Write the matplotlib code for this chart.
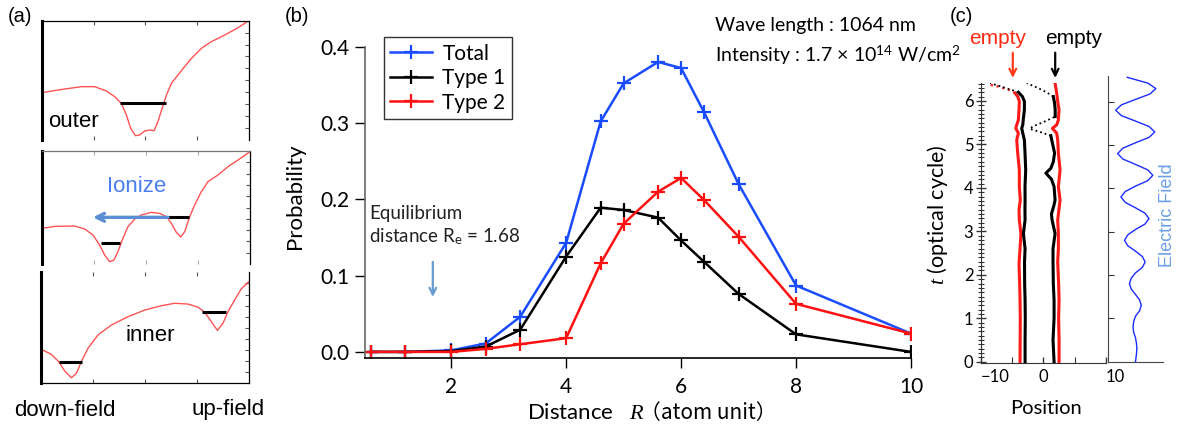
import numpy as np
import matplotlib
matplotlib.use('Agg')
import matplotlib.pyplot as plt

plt.rcParams['font.family'] = ['Lato', 'Noto Sans CJK JP']
plt.rcParams['mathtext.fontset'] = 'custom'
plt.rcParams['mathtext.rm'] = 'Lato'
plt.rcParams['mathtext.it'] = 'Liberation Serif:italic'
plt.rcParams['mathtext.bf'] = 'Lato:bold'

# ---------------- panel (b) data ----------------
dist = [0.6, 1.2, 2, 2.6, 3.2, 4, 4.6, 5, 5.6, 6, 6.4, 7, 8, 10]
prob_total = [0, 0, 0.002, 0.011, 0.046, 0.143, 0.302, 0.352, 0.380, 0.372, 0.314, 0.220, 0.087, 0.024]
prob_type1 = [0, 0, 0.001, 0.007, 0.029, 0.125, 0.189, 0.186, 0.176, 0.146, 0.118, 0.076, 0.023, 0.0]
prob_type2 = [0, 0, 0.0, 0.004, 0.010, 0.018, 0.116, 0.168, 0.210, 0.228, 0.199, 0.151, 0.063, 0.024]
series_labels = ['Total', 'Type 1', 'Type 2']
series_colors = ['#1a4cff', 'black', '#ff1010']
r_equilibrium = 1.68

# ---------------- panel (a) data (potential sketches, 0-100 box units) ----------------
outer_x = [0, 7.7, 19.0, 25.5, 31.1, 35.2, 38.4, 40.8, 42.9, 45.2, 47.2, 49.7, 52.1, 54.2, 56.1,
           58.1, 60.2, 62.6, 65.8, 69.0, 72.3, 77.1, 81.9, 88.4, 94.8, 100]
outer_y = [39.7, 41.9, 44.7, 44.7, 41.1, 36.3, 30.7, 21.0, 9.8, 3.6, 4.2, 7.5, 8.4, 7.8, 15.4,
           26.5, 37.7, 47.5, 54.5, 61.5, 68.4, 76.8, 82.4, 88.0, 94.1, 100]
outer_levels = [(37.6, 60.2, 31.3)]

mid_x = [0, 6.1, 15.7, 20.5, 24.5, 27.7, 30.1, 32.5, 34.6, 36.5, 38.9, 41.3, 44.6, 47.7, 52.6,
         56.6, 59.8, 62.2, 64.6, 66.7, 68.6, 71.0, 73.4, 76.6, 79.8, 84.6, 89.4, 94.2, 100]
mid_y = [31.6, 33.3, 33.6, 31.0, 25.7, 16.8, 8.0, 2.1, 3.5, 10.9, 22.7, 33.0, 39.8, 43.4, 45.7,
         44.8, 41.9, 36.0, 28.0, 23.9, 28.6, 41.9, 52.2, 64.0, 72.9, 78.8, 86.1, 92.0, 99.4]
mid_levels = [(28.5, 37.3, 18.9), (60.6, 70.5, 41.3)]

inner_x = [0, 4.8, 8.4, 11.3, 14.5, 16.9, 19.3, 22.5, 27.3, 33.8, 41.8, 49.9, 57.9, 64.3,
           70.7, 75.6, 78.8, 82.0, 84.9, 87.6, 90.0, 93.2, 96.4, 100]
inner_y = [30.6, 26.1, 19.5, 11.1, 5.0, 9.0, 19.5, 31.5, 43.5, 52.5, 60.0, 66.0, 69.9, 72.1,
           71.4, 68.5, 64.0, 55.5, 47.7, 54.1, 64.5, 75.0, 85.0, 91.5]
inner_levels = [(8.4, 19.6, 19.2), (77.5, 89.2, 64.2)]

# ---------------- panel (c) data ----------------
rl_t = [0, 0.5, 1.0, 1.42, 1.8, 2.26, 2.6, 2.95, 3.26, 3.5, 3.72, 4.03, 4.41, 4.8, 5.1, 5.26,
        5.37, 5.45, 5.56, 5.8, 5.99, 6.1, 6.18]
rl_x = [-3.74, -3.72, -3.70, -3.74, -3.80, -3.90, -3.74, -3.60, -3.85, -3.90, -3.70, -3.85,
        -3.85, -4.11, -4.27, -4.01, -4.43, -4.27, -4.01, -3.90, -3.85, -4.11, -4.54]
rl_tail_t = [6.18, 6.22, 6.26, 6.30, 6.33, 6.37]
rl_tail_x = [-4.54, -5.0, -5.61, -6.5, -7.2, -8.55]

bl_t = [0, 0.5, 1.0, 1.42, 1.8, 2.3, 2.6, 2.95, 3.26, 3.5, 3.72, 4.03, 4.41, 4.8, 5.1, 5.26,
        5.37, 5.45, 5.6, 5.8, 5.99, 6.1, 6.2]
bl_x = [-2.93, -2.93, -2.90, -2.93, -3.00, -3.02, -2.93, -3.20, -2.93, -2.95, -2.93, -2.94,
        -2.83, -2.94, -3.04, -3.30, -3.47, -3.30, -3.20, -3.04, -3.04, -3.36, -4.00]
bl_tail_t = [6.2, 6.26, 6.32, 6.37, 6.41]
bl_tail_x = [-4.0, -5.2, -6.5, -7.6, -8.55]

br_t = [0, 0.5, 1.0, 1.42, 1.8, 2.3, 2.6, 2.95, 3.26, 3.4, 3.6, 3.72, 4.03, 4.2, 4.34, 4.45,
        4.6, 4.8, 5.0, 5.2]
br_x = [1.72, 1.55, 1.72, 1.72, 1.60, 1.55, 1.55, 1.88, 1.40, 1.30, 1.70, 1.88, 1.72, 1.30,
        0.40, 1.20, 1.60, 1.80, 1.50, 1.20]
br_hook_t = [5.2, 5.28, 5.36, 5.42, 5.5, 5.58, 5.64]
br_hook_x = [1.2, -0.4, -2.2, -1.6, -0.2, 1.0, 1.9]
br2_t = [5.64, 5.8, 5.95, 6.1]
br2_x = [1.9, 1.9, 1.8, 1.6]
br_tail_t = [6.1, 6.2, 6.28, 6.35, 6.41]
br_tail_x = [1.6, 0.5, -0.6, -1.7, -2.66]

rr_t = [0, 0.5, 1.0, 1.42, 1.8, 2.3, 2.6, 2.95, 3.26, 3.5, 3.72, 4.03, 4.41, 4.8, 5.1, 5.26,
        5.37, 5.45, 5.56, 5.8, 5.99, 6.18, 6.41]
rr_x = [2.52, 2.52, 2.45, 2.52, 2.45, 2.30, 2.41, 2.41, 2.30, 2.50, 2.68, 2.41, 2.68, 2.41,
        2.30, 2.14, 1.45, 2.14, 2.40, 2.52, 2.30, 2.14, 1.88]

field_t = [0.0, 0.175, 0.3, 0.425, 0.55, 0.675, 0.8, 0.925, 1.05, 1.175, 1.3, 1.425, 1.55,
           1.675, 1.8, 1.925, 2.05, 2.175, 2.3, 2.425, 2.55, 2.675, 2.8, 2.925, 3.05, 3.175,
           3.3, 3.425, 3.55, 3.675, 3.8, 3.925, 4.05, 4.175, 4.3, 4.425, 4.55, 4.675, 4.8,
           4.925, 5.05, 5.175, 5.3, 5.425, 5.55, 5.675, 5.8, 5.925, 6.05, 6.175, 6.3, 6.425, 6.56]
field_e = [0.0, 0.035, 0.05, 0.035, 0.0, -0.065, -0.09, -0.065, 0.0, 0.15, 0.21, 0.15, 0.0,
           -0.155, -0.22, -0.155, 0.0, 0.25, 0.35, 0.25, 0.0, -0.28, -0.40, -0.28, 0.0, 0.345,
           0.49, 0.345, 0.0, -0.375, -0.53, -0.375, 0.0, 0.445, 0.63, 0.445, 0.0, -0.46, -0.65,
           -0.46, 0.0, 0.495, 0.70, 0.495, 0.0, -0.51, -0.72, -0.51, 0.0, 0.525, 0.74, 0.45, -0.3]

W, H = 1182, 430
fig = plt.figure(figsize=(W / 100, H / 100), dpi=100)


def box(l, t, r, b):
    # pixel box -> figure fraction rect
    return [l / W, 1 - b / H, (r - l) / W, (b - t) / H]


# ================= panel (a) =================
pot_red = '#ff3535'
ax_out = fig.add_axes(box(42, 20.7, 248.7, 140))
ax_mid = fig.add_axes(box(42, 151, 250, 264))
ax_inn = fig.add_axes(box(41.3, 272.3, 248.7, 383.3))
for ax, xs, ys, lev in [(ax_out, outer_x, outer_y, outer_levels),
                        (ax_mid, mid_x, mid_y, mid_levels),
                        (ax_inn, inner_x, inner_y, inner_levels)]:
    ax.plot(xs, ys, color=pot_red, lw=1.0, alpha=0.85)
    for x0, x1, y in lev:
        ax.plot([x0, x1], [y, y], color='black', lw=2.2, solid_capstyle='butt')
    ax.set_xlim(0, 100)
    ax.set_ylim(0, 100)
    ax.set_xticks([25, 50, 75])
    ax.set_yticks(np.arange(10, 100, 10))
    ax.tick_params(which='both', direction='in', length=3, width=0.8, labelbottom=False,
                   labelleft=False, left=False, right=True, top=True, bottom=True,
                   color='#555555')
    ax.spines['left'].set_linewidth(2.2)
    ax.spines['right'].set_linewidth(0.9)
    ax.spines['top'].set_linewidth(0.9)
ax_out.spines['bottom'].set_visible(False)
ax_mid.spines['bottom'].set_visible(False)
ax_mid.spines['top'].set_color('#777777')
ax_mid.tick_params(axis='x', which='both', bottom=True, color='#aaaaaa')
ax_inn.spines['top'].set_visible(False)
ax_inn.spines['bottom'].set_linewidth(0.9)

ax_out.text(2.9, 15.9, 'outer', fontsize=16, family='Liberation Sans', va='center', ha='left')
ax_mid.text(45.4, 68.4, 'Ionize', fontsize=16, family='Liberation Sans', va='center',
            ha='center', color='#4a7ef0')
ax_mid.annotate('', xy=(24.5, 41.3), xytext=(60.6, 41.3),
                arrowprops=dict(arrowstyle='->', color='#5a8fd4', lw=2.4,
                                shrinkA=0, shrinkB=0, mutation_scale=14))
ax_inn.text(52.3, 43.5, 'inner', fontsize=16, family='Liberation Sans', va='center', ha='center')

fig.text(8 / W, 1 - 17 / H, '(a)', fontsize=14.5, family='Liberation Sans', va='center')
fig.text(14 / W, 1 - 410 / H, 'down-field', fontsize=16, family='Liberation Sans', va='center')
fig.text(192 / W, 1 - 410 / H, 'up-field', fontsize=16, family='Liberation Sans', va='center')

# ================= panel (b) =================
ax = fig.add_axes(box(365, 46.7, 911, 358))
for vals, lab, col in zip([prob_total, prob_type1, prob_type2], series_labels, series_colors):
    ax.plot(dist, vals, color=col, lw=1.8, marker='+', markersize=10, mew=1.6, label=lab)
ax.set_xlim(0.5, 10)
ax.set_ylim(-0.008, 0.4)
ax.set_xticks([2, 4, 6, 8, 10])
ax.set_yticks([0.0, 0.1, 0.2, 0.3, 0.4])
ax.set_yticklabels(['0.0', '0.1', '0.2', '0.3', '0.4'])
ax.tick_params(axis='both', direction='out', length=7, width=1, labelsize=15, pad=4)
ax.tick_params(axis='x', pad=7)
ax.spines['top'].set_visible(False)
ax.spines['right'].set_visible(False)
ax.spines['left'].set_color('#666666')
ax.spines['left'].set_linewidth(1.2)
ax.spines['bottom'].set_linewidth(1.2)
ax.set_ylabel('Probability', fontsize=16)
ax.yaxis.set_label_coords(-0.11, 0.52)
# x label in two pieces so the full-width brackets can use a CJK font
ax.text(0.297, -0.177, 'Distance   $R$', fontsize=16, ha='left', va='center',
        transform=ax.transAxes)
ax.text(0.503, -0.177, '（atom unit）', fontsize=15, ha='left', va='center',
        family='Noto Sans CJK JP', transform=ax.transAxes)
leg = ax.legend(loc='upper left', bbox_to_anchor=(0.035, 1.03), fontsize=15, frameon=True,
                fancybox=False, edgecolor='black', numpoints=1, handlelength=2.0,
                borderpad=0.3, labelspacing=0.22, handletextpad=0.5, borderaxespad=0)
leg.get_frame().set_linewidth(1.0)

ax.text(0.57, 0.192, 'Equilibrium\ndistance R$_\\mathrm{e}$ = 1.68', fontsize=13.5,
        va='top', ha='left', linespacing=1.25, color='#222222')
ax.annotate('', xy=(r_equilibrium, 0.072), xytext=(r_equilibrium, 0.118),
            arrowprops=dict(arrowstyle='->', color='#6a9bd0', lw=1.6, shrinkA=0, shrinkB=0,
                            mutation_scale=12))

fig.text(285 / W, 1 - 16 / H, '(b)', fontsize=14.5, family='Liberation Sans', va='center')
fig.text(715 / W, 1 - 25 / H, 'Wave length : 1064 nm', fontsize=14, va='center')
fig.text(715 / W, 1 - 55 / H, 'Intensity : 1.7 × 10$^{14}$ W/cm$^2$', fontsize=14,
         va='center')

# ================= panel (c) =================
axc = fig.add_axes(box(981, 82.7, 1105.7, 363.3))
lw_traj = 2.2
axc.plot(rr_x, rr_t, color='#ff1a1a', lw=lw_traj)
axc.plot(rl_x, rl_t, color='#ff1a1a', lw=lw_traj)
axc.plot(rl_tail_x, rl_tail_t, color='#ff1a1a', lw=1.6, ls=':')
axc.plot(bl_x, bl_t, color='black', lw=lw_traj)
axc.plot(bl_tail_x, bl_tail_t, color='black', lw=1.3, ls=':')
axc.plot(br_x, br_t, color='black', lw=lw_traj)
axc.plot(br_hook_x, br_hook_t, color='black', lw=1.3, ls=':')
axc.plot(br2_x, br2_t, color='black', lw=lw_traj)
axc.plot(br_tail_x, br_tail_t, color='black', lw=1.3, ls=':')
axc.set_xlim(-10, 10)
axc.set_ylim(-0.035, 6.42)
axc.set_xticks([-10, 0, 10])
axc.set_xticks([-5, 5], minor=True)
axc.set_yticks(range(0, 7))
axc.set_yticks(np.arange(0, 6.45, 0.1), minor=True)
axc.tick_params(which='major', direction='inout', length=7, width=1, labelsize=12, pad=2,
                color='#333333')
axc.tick_params(which='minor', direction='inout', length=5, width=0.8, color='#333333')
axc.tick_params(axis='x', which='both', direction='in', length=4, pad=4)
# the outer x labels sit to the right of their ticks, as in the original
xlabs = axc.get_xticklabels()
xlabs[0].set_horizontalalignment('left')
xlabs[2].set_horizontalalignment('left')
axc.spines['top'].set_visible(False)
axc.spines['right'].set_visible(False)
axc.spines['left'].set_color('#333333')
axc.spines['bottom'].set_color('#333333')
axc.set_ylabel('$t$ (optical cycle)', fontsize=15.5)
axc.yaxis.set_label_coords(-0.25, 0.528)
axc.set_xlabel('Position', fontsize=14.5)
axc.xaxis.set_label_coords(0.52, -0.13)

# "empty" markers above the trajectories
axc.annotate('', xy=(-4.9, 6.53), xytext=(-4.9, 7.11), annotation_clip=False,
             arrowprops=dict(arrowstyle='->', color='#ff3a1a', lw=1.6, shrinkA=0, shrinkB=0,
                             mutation_scale=12))
axc.annotate('', xy=(1.9, 6.53), xytext=(1.9, 7.11), annotation_clip=False,
             arrowprops=dict(arrowstyle='->', color='black', lw=1.6, shrinkA=0, shrinkB=0,
                             mutation_scale=12))
axc.text(-7.4, 7.44, 'empty', color='#ff2a10', fontsize=15, family='Liberation Sans',
         ha='center', va='center', clip_on=False)
axc.text(4.9, 7.44, 'empty', color='black', fontsize=15, family='Liberation Sans',
         ha='center', va='center', clip_on=False)

axf = fig.add_axes(box(1108, 76, 1163, 361.7))
axf.plot(field_e, field_t, color='#1a2cff', lw=1.0)
axf.set_xlim(-1, 1)
axf.set_ylim(0, 6.59)
axf.set_xticks([])
axf.set_yticks(range(1, 7))
axf.tick_params(axis='y', direction='in', length=4, width=0.8, labelleft=False,
                color='#333333')
axf.spines['top'].set_visible(False)
axf.spines['right'].set_visible(False)
axf.spines['left'].set_color('#444444')
axf.spines['bottom'].set_color('#444444')

fig.text(1168 / W, 1 - 215 / H, 'Electric Field', rotation=90, color='#6a9ee6', fontsize=13,
         family='Liberation Sans', ha='center', va='center')
fig.text(950 / W, 1 - 16 / H, '(c)', fontsize=14.5, family='Liberation Sans', va='center')

fig.savefig('out.png', dpi=100)
